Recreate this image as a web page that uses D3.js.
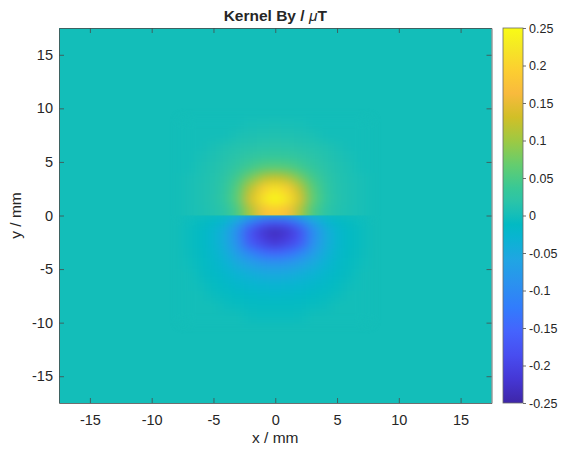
<!DOCTYPE html>
<html lang="en">
<head>
<meta charset="UTF-8">
<title>Kernel By</title>
<script src="https://cdn.jsdelivr.net/npm/d3@7"></script>
<style>
    body { margin: 0; background: #fff; }
    svg text { font-family: "Liberation Sans", Arial, Helvetica, sans-serif; fill: #262626; }
    .axis path, .axis line { stroke: #4a4a4a; stroke-width: 0.8; }
</style>
</head>
<body>
<div id="chart"></div>
<script>
    // cell centres of the sampled field, mm
    const xCenters = [-7, -6, -5, -4, -3, -2, -1, 0, 1, 2, 3, 4, 5, 6, 7];
    const yCenters = [8.5, 7.5, 6.5, 5.5, 4.5, 3.5, 2.5, 1.5, 0.5, -0.5, -1.5, -2.5, -3.5, -4.5, -5.5, -6.5, -7.5, -8.5, -9.5];

    // By in uT, one row per yCenter (top to bottom); zero elsewhere
    const byRows = [
        [0, 0, 0, 0, 0, .003, .004, .005, .004, .003, 0, 0, 0, 0, 0],
        [0, 0, 0, 0, .006, .008, .009, .01, .009, .008, .006, 0, 0, 0, 0],
        [0, 0, .004, .009, .012, .015, .017, .018, .017, .015, .012, .009, .004, 0, 0],
        [0, .003, .008, .013, .019, .025, .03, .032, .03, .025, .019, .013, .008, .003, 0],
        [0, .006, .011, .018, .029, .043, .056, .06, .056, .043, .029, .018, .011, .006, 0],
        [.004, .007, .013, .024, .045, .08, .115, .13, .115, .08, .045, .024, .013, .007, .004],
        [.004, .008, .014, .028, .06, .12, .19, .22, .19, .12, .06, .028, .014, .008, .004],
        [.004, .008, .015, .03, .065, .14, .22, .25, .22, .14, .065, .03, .015, .008, .004],
        [.004, .007, .012, .022, .05, .11, .17, .19, .17, .11, .05, .022, .012, .007, .004],
        [-.004, -.008, -.015, -.03, -.06, -.11, -.15, -.16, -.15, -.11, -.06, -.03, -.015, -.008, -.004],
        [-.006, -.012, -.025, -.05, -.1, -.18, -.22, -.235, -.22, -.18, -.1, -.05, -.025, -.012, -.006],
        [-.006, -.012, -.025, -.05, -.095, -.17, -.2, -.22, -.2, -.17, -.095, -.05, -.025, -.012, -.006],
        [-.005, -.011, -.022, -.042, -.075, -.11, -.14, -.15, -.14, -.11, -.075, -.042, -.022, -.011, -.005],
        [-.003, -.01, -.018, -.032, -.05, -.068, -.08, -.085, -.08, -.068, -.05, -.032, -.018, -.01, -.003],
        [0, -.008, -.014, -.022, -.032, -.04, -.047, -.05, -.047, -.04, -.032, -.022, -.014, -.008, 0],
        [0, -.003, -.01, -.015, -.02, -.025, -.028, -.03, -.028, -.025, -.02, -.015, -.01, -.003, 0],
        [0, 0, -.006, -.009, -.012, -.015, -.017, -.018, -.017, -.015, -.012, -.009, -.006, 0, 0],
        [0, 0, 0, -.005, -.007, -.009, -.01, -.01, -.01, -.009, -.007, -.005, 0, 0, 0],
        [0, 0, 0, 0, 0, -.005, -.006, -.006, -.006, -.005, 0, 0, 0, 0, 0]
    ];

    const xTicks = [-15, -10, -5, 0, 5, 10, 15];
    const yTicks = [-15, -10, -5, 0, 5, 10, 15];
    const cbTicks = [-0.25, -0.2, -0.15, -0.1, -0.05, 0, 0.05, 0.1, 0.15, 0.2, 0.25];

    // MATLAB parula colormap samples (index out of 63)
    const parulaIdx = [0, 4, 8, 12, 16, 20, 24, 28, 30, 32, 34, 36, 40, 44, 48, 52, 56, 60, 63];
    const parula = ['#3e26a8', '#4537d5', '#484df0', '#4563fd', '#327cfc', '#2b91ef', '#20a5e3', '#08b5d0',
        '#02bac3', '#19bfb6', '#2cc4a7', '#37c897', '#64cd6f', '#9dc943', '#d1bf27', '#f8ba3d',
        '#fccf30', '#f5e924', '#f9fb15'];

    const width = 563, height = 452;
    const plot = {left: 59, right: 491.5, top: 28, bottom: 403};
    const cb = {left: 503, right: 523};

    const x = d3.scaleLinear().domain([-17.5, 17.5]).range([plot.left, plot.right]);
    const y = d3.scaleLinear().domain([-17.5, 17.5]).range([plot.bottom, plot.top]);
    const color = d3.scaleLinear()
        .domain(parulaIdx.map(i => -0.25 + 0.5 * i / 63))
        .range(parula)
        .clamp(true);

    const svg = d3.select('#chart').append('svg').attr('width', width).attr('height', height);
    const defs = svg.append('defs');

    // top / bottom halves are clipped separately so the jump at y = 0 stays sharp
    defs.append('clipPath').attr('id', 'clipTop').append('rect')
        .attr('x', plot.left).attr('y', plot.top)
        .attr('width', plot.right - plot.left).attr('height', y(0) - plot.top);
    defs.append('clipPath').attr('id', 'clipBot').append('rect')
        .attr('x', plot.left).attr('y', y(0))
        .attr('width', plot.right - plot.left).attr('height', plot.bottom - y(0));
    defs.append('filter').attr('id', 'smooth')
        .attr('filterUnits', 'userSpaceOnUse')
        .attr('color-interpolation-filters', 'sRGB')
        .attr('x', plot.left - 20).attr('y', plot.top - 20)
        .attr('width', plot.right - plot.left + 40).attr('height', plot.bottom - plot.top + 40)
        .append('feGaussianBlur').attr('stdDeviation', '6 5');

    const cells = [];
    yCenters.forEach((yc, r) => xCenters.forEach((xc, c) => cells.push({x: xc, y: yc, v: byRows[r][c]})));

    svg.append('rect')
        .attr('x', plot.left).attr('y', plot.top)
        .attr('width', plot.right - plot.left).attr('height', plot.bottom - plot.top)
        .attr('fill', color(0));

    const drawHalf = (clipId, data, edgeRow) => {
        const g = svg.append('g').attr('clip-path', `url(#${clipId})`)
            .append('g').attr('filter', 'url(#smooth)');
        g.selectAll('rect').data(data).enter().append('rect')
            .attr('shape-rendering', 'crispEdges')
            .attr('x', d => x(d.x - 0.5))
            .attr('width', d => x(d.x + 0.5) - x(d.x - 0.5) + 0.5)
            .attr('y', d => y(d.y === -edgeRow ? 1.5 : d.y + 0.5))
            .attr('height', d => {
                const top = d.y === -edgeRow ? 1.5 : d.y + 0.5;
                const bot = d.y === edgeRow ? -1.5 : d.y - 0.5;
                return y(bot) - y(top) + 0.5;
            })
            .attr('fill', d => color(d.v));
    };
    // row next to y = 0 is stretched across the cut so the blur doesn't fade there
    drawHalf('clipTop', cells.filter(d => d.y > 0), 0.5);
    drawHalf('clipBot', cells.filter(d => d.y < 0), -0.5);

    const plain = d => String(d);

    // axes, MATLAB style: ticks inward on all four sides
    svg.append('g').classed('axis', true)
        .attr('transform', `translate(0,${plot.bottom})`)
        .call(d3.axisBottom(x).tickValues(xTicks).tickFormat(plain).tickSizeInner(-5).tickSizeOuter(0).tickPadding(12))
        .call(g => g.selectAll('text').attr('font-size', 14.5));
    svg.append('g').classed('axis', true)
        .attr('transform', `translate(0,${plot.top})`)
        .call(d3.axisTop(x).tickValues(xTicks).tickSizeInner(-5).tickSizeOuter(0).tickFormat(''));
    svg.append('g').classed('axis', true)
        .attr('transform', `translate(${plot.left},0)`)
        .call(d3.axisLeft(y).tickValues(yTicks).tickFormat(plain).tickSizeInner(-5).tickSizeOuter(0).tickPadding(6))
        .call(g => g.selectAll('text').attr('font-size', 14.5));
    svg.append('g').classed('axis', true)
        .attr('transform', `translate(${plot.right},0)`)
        .call(d3.axisRight(y).tickValues(yTicks).tickSizeInner(-5).tickSizeOuter(0).tickFormat(''));
    svg.selectAll('.axis text').attr('font-family', null);

    // colorbar
    const cbScale = d3.scaleLinear().domain([-0.25, 0.25]).range([plot.bottom, plot.top]);
    const grad = defs.append('linearGradient').attr('id', 'parula')
        .attr('x1', 0).attr('y1', 1).attr('x2', 0).attr('y2', 0);
    grad.selectAll('stop').data(parulaIdx).enter().append('stop')
        .attr('offset', d => d / 63)
        .attr('stop-color', (d, i) => parula[i]);
    svg.append('rect')
        .attr('x', cb.left).attr('y', cbScale(0.25))
        .attr('width', cb.right - cb.left).attr('height', cbScale(-0.25) - cbScale(0.25))
        .attr('fill', 'url(#parula)')
        .attr('stroke', '#6a6a6a').attr('stroke-width', 0.8);
    svg.append('g').classed('axis', true)
        .attr('transform', `translate(${cb.right},0)`)
        .call(d3.axisRight(cbScale).tickValues(cbTicks).tickSizeInner(3).tickSizeOuter(0).tickPadding(3)
            .tickFormat(d => String(+d.toFixed(2))))
        .call(g => g.select('.domain').remove())
        .call(g => g.selectAll('text').attr('font-size', 12.5));

    // title and labels
    const title = svg.append('text')
        .attr('x', (plot.left + plot.right) / 2).attr('y', 21)
        .attr('text-anchor', 'middle').attr('font-size', 15.5).attr('font-weight', 'bold');
    title.append('tspan').text('Kernel By / ');
    title.append('tspan').attr('font-style', 'italic').attr('font-weight', 'normal').text('μ');
    title.append('tspan').text('T');

    svg.append('text')
        .attr('x', (plot.left + plot.right) / 2).attr('y', 443)
        .attr('text-anchor', 'middle').attr('font-size', 15.5)
        .text('x / mm');
    svg.append('text')
        .attr('transform', `translate(21,${y(0)}) rotate(-90)`)
        .attr('text-anchor', 'middle').attr('font-size', 15.5)
        .text('y / mm');
</script>
</body>
</html>
